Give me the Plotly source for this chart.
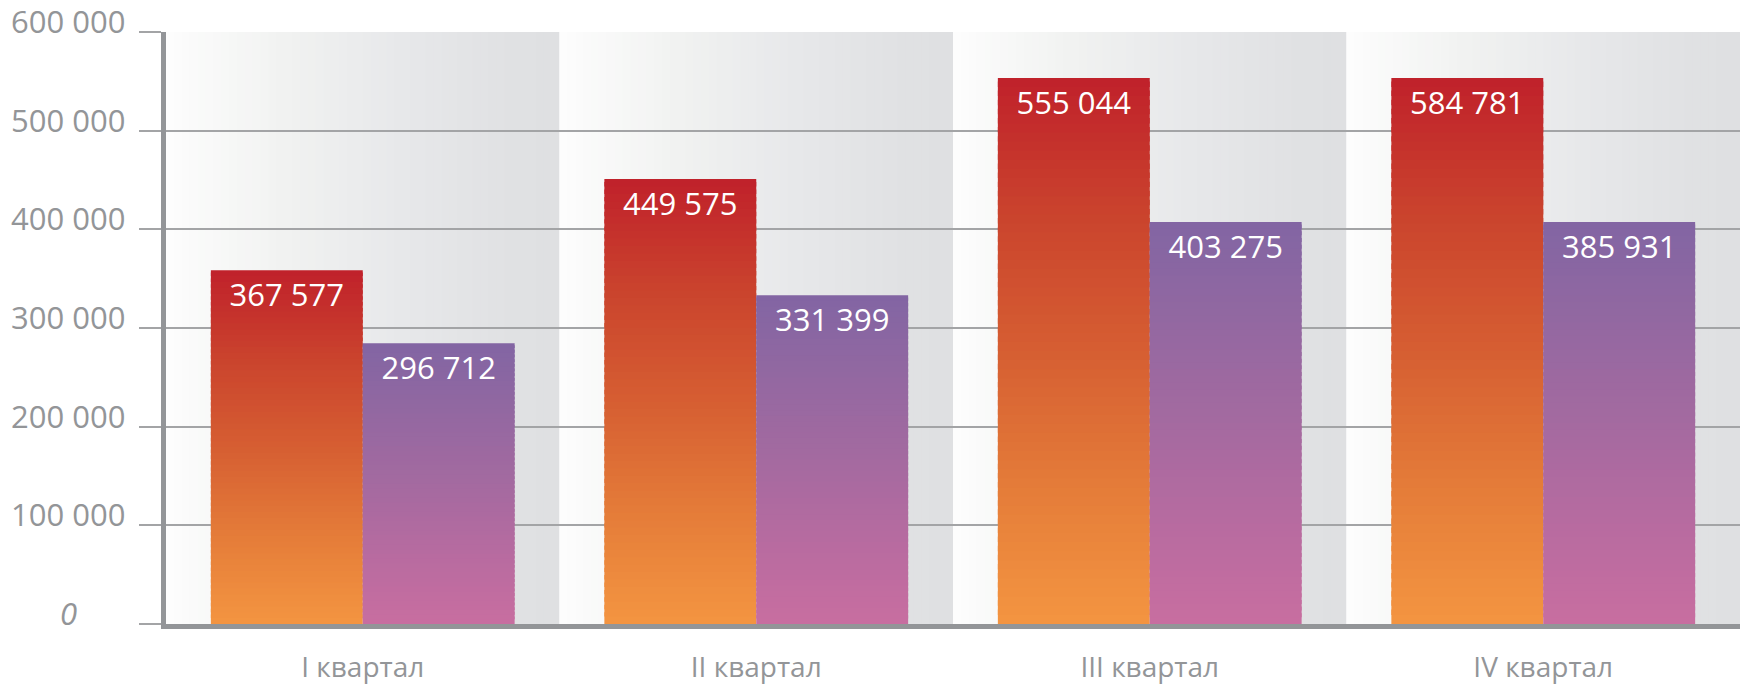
import plotly.graph_objects as go

# ---------------- data ----------------
categories = ["I квартал", "II квартал", "III квартал", "IV квартал"]
series_a_heights = [358600, 450900, 553500, 553500]   # bar heights as drawn
series_b_heights = [284500, 333200, 407500, 407500]
series_a_labels = ["367 577", "449 575", "555 044", "584 781"]
series_b_labels = ["296 712", "331 399", "403 275", "385 931"]
y_tick_values = [0, 100000, 200000, 300000, 400000, 500000, 600000]
y_tick_labels = ["0", "100 000", "200 000", "300 000", "400 000", "500 000", "600 000"]

# ---------------- styles ----------------
FONT = "Open Sans"
GREY_TEXT = "#939598"
AXIS_GREY = "#939598"
GRID_GREY = "#a3a4a6"
# vertical gradients (fraction 0 = bottom, 1 = top of each bar)
grad_a = [(0.0, "#f49541"), (0.25, "#e47c39"), (0.5, "#d65e32"), (0.75, "#ca432d"), (1.0, "#c0212b")]
grad_b = [(0.0, "#c86ea0"), (0.25, "#b76ba0"), (0.5, "#a46aa0"), (0.75, "#9368a1"), (1.0, "#8265a3")]
# horizontal band gradient (fraction 0 = left, 1 = right of each category band)
grad_band = [(0.0, "#fdfdfd"), (0.3, "#f1f2f1"), (0.6, "#e7e8ea"), (0.87, "#e0e1e3"), (1.0, "#dfe0e2")]

N_SEG = 60
N_STRIPE = 50


def hex_to_rgb(h):
    h = h.lstrip("#")
    return tuple(int(h[i:i + 2], 16) for i in (0, 2, 4))


def interp(scale, f):
    for (f0, c0), (f1, c1) in zip(scale[:-1], scale[1:]):
        if f0 <= f <= f1:
            t = 0 if f1 == f0 else (f - f0) / (f1 - f0)
            a, b = hex_to_rgb(c0), hex_to_rgb(c1)
            r = [round(a[i] + (b[i] - a[i]) * t) for i in range(3)]
            return "rgb(%d,%d,%d)" % tuple(r)
    return scale[-1][1]


fig = go.Figure()

# gradient bars: each bar built from stacked thin segments
for heights, grad, group in ((series_a_heights, grad_a, "a"), (series_b_heights, grad_b, "b")):
    for k in range(N_SEG):
        f0 = k / N_SEG
        f1 = min((k + 1.6) / N_SEG, 1.0)
        fig.add_trace(go.Bar(
            x=categories,
            y=[h * (f1 - f0) for h in heights],
            base=[h * f0 for h in heights],
            offsetgroup=group,
            marker=dict(color=interp(grad, (k + 0.5) / N_SEG), line=dict(width=0)),
            showlegend=False,
            hoverinfo="skip",
        ))

# value labels inside bar tops
for heights, labels, group in ((series_a_heights, series_a_labels, "a"),
                               (series_b_heights, series_b_labels, "b")):
    fig.add_trace(go.Bar(
        x=categories,
        y=heights,
        offsetgroup=group,
        marker=dict(color="rgba(0,0,0,0)", line=dict(width=0)),
        text=labels,
        textposition="inside",
        insidetextanchor="end",
        textangle=0,
        textfont=dict(family=FONT, size=31, color="white"),
        showlegend=False,
        hoverinfo="skip",
    ))

# background bands with horizontal gradient (one per category)
shapes = []
for j in range(len(categories)):
    for s in range(N_STRIPE):
        x0 = j - 0.5 + s / N_STRIPE
        x1 = j - 0.5 + min((s + 1.6) / N_STRIPE, 1.0)
        shapes.append(dict(
            type="rect", xref="x", yref="y",
            x0=x0, x1=x1, y0=0, y1=y_tick_values[-1],
            fillcolor=interp(grad_band, (s + 0.5) / N_STRIPE),
            line=dict(width=0), layer="below",
        ))

# y tick labels (centred, slightly above their gridlines)
annotations = []
for v, t in zip(y_tick_values, y_tick_labels):
    annotations.append(dict(
        x=0, xref="paper", y=v, yref="y",
        xanchor="center", yanchor="middle",
        xshift=-98, yshift=11,
        text=t, showarrow=False,
        font=dict(family=FONT, size=31, color=GREY_TEXT,
                  style="italic" if v == 0 else "normal"),
    ))

fig.update_layout(
    width=1744, height=686,
    margin=dict(l=166, r=4, t=32, b=62, autoexpand=False),
    paper_bgcolor="white",
    plot_bgcolor="white",
    barmode="group",
    bargap=0.228,
    bargroupgap=0,
    showlegend=False,
    hovermode=False,
    shapes=shapes,
    annotations=annotations,
    xaxis=dict(
        type="category",
        range=[-0.5, len(categories) - 0.5],
        automargin=False,
        showgrid=False,
        showline=True, linecolor=AXIS_GREY, linewidth=5,
        ticks="",
        ticklabelstandoff=14,
        tickfont=dict(family=FONT, size=28, color=GREY_TEXT),
        zeroline=False,
    ),
    yaxis=dict(
        range=[0, y_tick_values[-1]],
        automargin=False,
        tickmode="array", tickvals=y_tick_values,
        showticklabels=False,
        showgrid=True, gridcolor=GRID_GREY, gridwidth=1.5,
        ticks="outside", ticklen=22, tickwidth=1.5, tickcolor=GRID_GREY,
        showline=True, linecolor=AXIS_GREY, linewidth=5,
        zeroline=False,
    ),
)

fig.write_html("out.html",
               config={"displayModeBar": False},
               post_script="document.body.style.margin='0px';document.body.style.overflow='hidden';")
